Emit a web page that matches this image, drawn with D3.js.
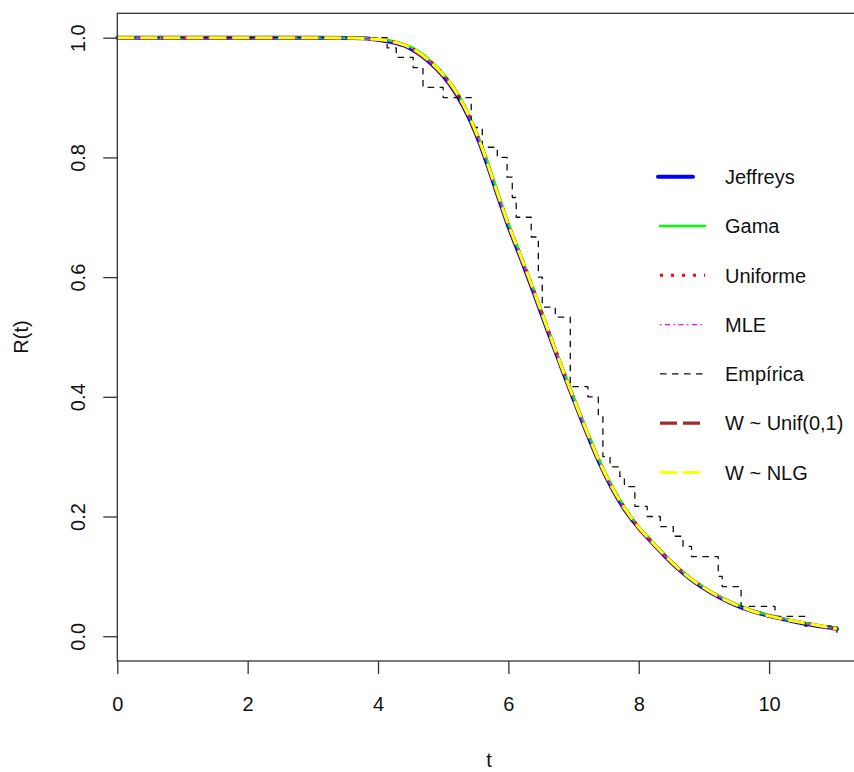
<!DOCTYPE html>
<html>
<head>
<meta charset="utf-8">
<script src="https://cdn.jsdelivr.net/npm/d3@7"></script>
<style>
body { margin: 0; background: #fff; }
svg text { font-family: "Liberation Sans", Arial, sans-serif; fill: #111; font-size: 20px; }
</style>
</head>
<body>
<svg id="chart" width="854" height="772"></svg>
<script>
// time grid shared by the fitted reliability curves
var tGrid = [0, 3, 3.6, 3.9, 4.0, 4.2, 4.4, 4.6, 4.8, 5.0, 5.2, 5.4, 5.6, 5.8, 6.0, 6.2, 6.4, 6.6, 6.8, 7.0,
  7.2, 7.4, 7.6, 7.8, 8.0, 8.2, 8.4, 8.6, 8.8, 9.0, 9.2, 9.4, 9.6, 9.8, 10.0, 10.2, 10.4, 10.6, 10.8, 11.0, 11.04];

var rJeffreys = [1, 1, 0.9995, 0.998, 0.9965, 0.993, 0.987, 0.975, 0.958, 0.936, 0.906, 0.865, 0.812, 0.748, 0.685, 0.629, 0.571, 0.511, 0.453, 0.396,
  0.341, 0.289, 0.245, 0.209, 0.181, 0.157, 0.134, 0.113, 0.095, 0.080, 0.067, 0.056, 0.047, 0.040, 0.034, 0.029, 0.024, 0.020, 0.016, 0.013, 0.012];
var rGama = [1, 1, 0.9996, 0.9985, 0.9975, 0.995, 0.989, 0.979, 0.962, 0.940, 0.911, 0.870, 0.818, 0.754, 0.690, 0.634, 0.576, 0.516, 0.457, 0.400,
  0.345, 0.293, 0.249, 0.213, 0.183, 0.159, 0.136, 0.115, 0.097, 0.082, 0.069, 0.058, 0.049, 0.041, 0.035, 0.030, 0.025, 0.021, 0.017, 0.014, 0.013];
var rUniforme = [1, 1, 0.9995, 0.998, 0.997, 0.994, 0.988, 0.977, 0.961, 0.939, 0.910, 0.869, 0.816, 0.752, 0.689, 0.633, 0.575, 0.515, 0.456, 0.399,
  0.344, 0.292, 0.248, 0.212, 0.182, 0.158, 0.135, 0.114, 0.096, 0.081, 0.068, 0.057, 0.048, 0.040, 0.034, 0.029, 0.025, 0.021, 0.017, 0.013, 0.012];
var rMLE = [1, 1, 0.9995, 0.998, 0.997, 0.993, 0.987, 0.976, 0.959, 0.937, 0.908, 0.867, 0.814, 0.750, 0.687, 0.631, 0.573, 0.513, 0.454, 0.397,
  0.342, 0.290, 0.246, 0.210, 0.181, 0.157, 0.135, 0.114, 0.096, 0.081, 0.068, 0.057, 0.048, 0.040, 0.034, 0.029, 0.024, 0.020, 0.016, 0.013, 0.012];
var rWUnif = [1, 1, 0.9995, 0.998, 0.997, 0.994, 0.988, 0.976, 0.959, 0.937, 0.908, 0.867, 0.814, 0.750, 0.687, 0.631, 0.573, 0.513, 0.454, 0.397,
  0.342, 0.290, 0.246, 0.210, 0.181, 0.157, 0.135, 0.114, 0.096, 0.081, 0.068, 0.057, 0.048, 0.040, 0.034, 0.029, 0.025, 0.021, 0.017, 0.013, 0.012];
var rWNLG = [1, 1, 0.9995, 0.998, 0.997, 0.994, 0.988, 0.977, 0.960, 0.938, 0.909, 0.868, 0.815, 0.751, 0.688, 0.632, 0.574, 0.514, 0.455, 0.398,
  0.343, 0.291, 0.247, 0.211, 0.182, 0.158, 0.135, 0.114, 0.096, 0.081, 0.068, 0.057, 0.048, 0.040, 0.034, 0.029, 0.025, 0.021, 0.017, 0.013, 0.012];

// empirical step function: jump times and value after each jump
var tEmp = [0, 4.14, 4.28, 4.54, 4.69, 5.00, 5.43, 5.60, 5.83, 5.98, 6.06, 6.12, 6.35, 6.46, 6.52, 6.72, 6.95, 7.22, 7.38, 7.45,
  7.56, 7.71, 7.78, 7.94, 8.13, 8.33, 8.53, 8.68, 8.81, 9.22, 9.28, 9.57, 10.09, 10.55, 11.04];
var rEmp = [1, 0.983, 0.967, 0.950, 0.917, 0.900, 0.850, 0.817, 0.800, 0.767, 0.733, 0.700, 0.667, 0.600, 0.550, 0.533, 0.417, 0.400, 0.367, 0.300,
  0.283, 0.267, 0.250, 0.217, 0.200, 0.183, 0.167, 0.150, 0.133, 0.100, 0.083, 0.050, 0.033, 0.017, 0];

var xTicks = [0, 2, 4, 6, 8, 10];
var yTicks = [0, 0.2, 0.4, 0.6, 0.8, 1.0];
var legendNames = ["Jeffreys", "Gama", "Uniforme", "MLE", "Empírica", "W ~ Unif(0,1)", "W ~ NLG"];

var svg = d3.select("#chart");

var x = d3.scaleLinear().domain([0, 11.41]).range([117.3, 861]);
var y = d3.scaleLinear().domain([-0.0414, 1.0408]).range([661, 13.3]);

// line styles, in drawing order (same order as the legend)
var series = [
  {name: legendNames[0], t: tGrid, r: rJeffreys, color: "#0000ff", width: 4, dash: null, cap: "round"},
  {name: legendNames[1], t: tGrid, r: rGama, color: "#00ff00", width: 2.6, dash: null, cap: "round"},
  {name: legendNames[2], t: tGrid, r: rUniforme, color: "#ff0000", width: 3, dash: "3,8", cap: "butt"},
  {name: legendNames[3], t: tGrid, r: rMLE, color: "#ff00ff", width: 1.4, dash: "1.5,3.5,5,3.5", cap: "butt"},
  {name: legendNames[4], t: tEmp, r: rEmp, color: "#111111", width: 1.3, dash: "6.5,5.5", cap: "butt", step: true},
  {name: legendNames[5], t: tGrid, r: rWUnif, color: "#a52a2a", width: 3.2, dash: "17,6", cap: "butt"},
  {name: legendNames[6], t: tGrid, r: rWNLG, color: "#ffff00", width: 3, dash: "17,6", cap: "butt"}
];

var plot = svg.append("g");

series.forEach(function(s){
  var line = d3.line()
    .x(function(d, i){ return x(s.t[i]); })
    .y(function(d){ return y(d); })
    .curve(s.step ? d3.curveStepAfter : d3.curveMonotoneX);

  plot.append("path")
    .attr("d", line(s.r))
    .attr("fill", "none")
    .attr("stroke", s.color)
    .attr("stroke-width", s.width)
    .attr("stroke-linecap", s.cap)
    .attr("stroke-linejoin", "round")
    .attr("stroke-dasharray", s.dash);
});

// box round the plot region (right side falls outside the canvas)
svg.append("rect")
  .attr("x", x.range()[0])
  .attr("y", y.range()[1])
  .attr("width", x.range()[1] - x.range()[0])
  .attr("height", y.range()[0] - y.range()[1])
  .attr("fill", "none")
  .attr("stroke", "#333")
  .attr("stroke-width", 1.3);

// x axis
var gx = svg.append("g")
  .attr("transform", "translate(0," + y.range()[0] + ")")
  .call(d3.axisBottom(x).tickValues(xTicks).tickSize(13).tickFormat(d3.format("d")));
gx.select(".domain").remove();
gx.selectAll("line").attr("stroke", "#333").attr("stroke-width", 1.3);
gx.selectAll("text")
  .attr("y", 50)
  .attr("dy", 0)
  .attr("fill", null)
  .style("font-size", "20px")
  .style("font-family", null);

// y axis, labels turned like base R graphics
var gy = svg.append("g")
  .attr("transform", "translate(" + x.range()[0] + ",0)")
  .call(d3.axisLeft(y).tickValues(yTicks).tickSize(14).tickFormat(d3.format(".1f")));
gy.select(".domain").remove();
gy.selectAll("line").attr("stroke", "#333").attr("stroke-width", 1.3);
gy.selectAll("text")
  .attr("x", 0)
  .attr("dy", 0)
  .attr("transform", "translate(-32,0) rotate(-90)")
  .attr("text-anchor", "middle")
  .attr("fill", null)
  .style("font-size", "20px")
  .style("font-family", null);

svg.append("text")
  .attr("x", 489)
  .attr("y", 767)
  .attr("text-anchor", "middle")
  .text("t");

svg.append("text")
  .attr("transform", "translate(28,337) rotate(-90)")
  .attr("text-anchor", "middle")
  .text("R(t)");

// legend
var legend = svg.append("g");
series.forEach(function(s, i){
  var ly = 176.7 + i * 49.3;
  legend.append("line")
    .attr("x1", i == 0 ? 658 : 660)
    .attr("x2", i == 0 ? 693 : 705)
    .attr("y1", ly)
    .attr("y2", ly)
    .attr("stroke", s.color)
    .attr("stroke-width", s.width)
    .attr("stroke-linecap", s.cap)
    .attr("stroke-dasharray", s.dash);
  legend.append("text")
    .attr("x", 725)
    .attr("y", ly)
    .attr("dy", "0.36em")
    .text(s.name);
});
</script>
</body>
</html>
